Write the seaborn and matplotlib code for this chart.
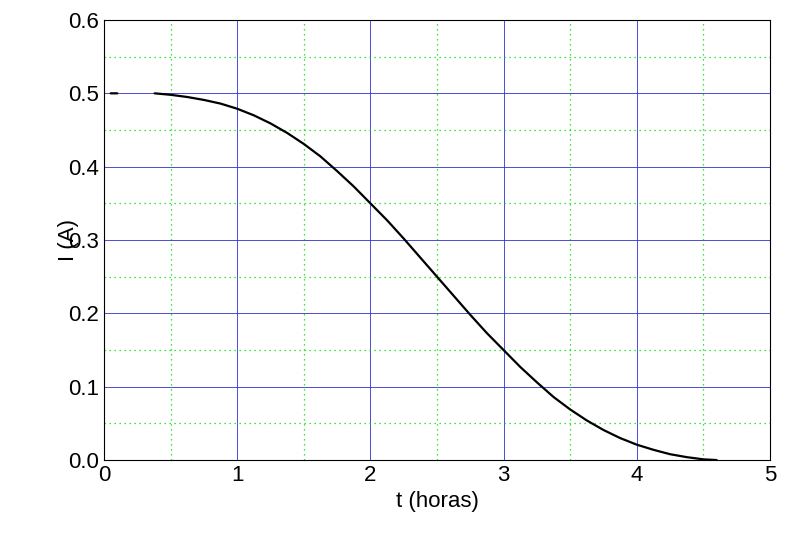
import matplotlib
matplotlib.use("Agg")
import matplotlib.pyplot as plt
import seaborn as sns
import numpy as np
import pandas as pd

t = [0.05, 0.1, np.nan, 0.38, 0.5, 0.625, 0.75, 0.875, 1.0, 1.125, 1.25, 1.375, 1.5, 1.625, 1.75, 1.875, 2.0, 2.125, 2.25, 2.375, 2.5,
     2.625, 2.75, 2.875, 3.0, 3.125, 3.25, 3.375, 3.5, 3.625, 3.75, 3.875, 4.0, 4.125, 4.25, 4.375, 4.5, 4.6]
i = [0.5, 0.5, np.nan, 0.5, 0.498, 0.495, 0.491, 0.486, 0.479, 0.470, 0.459, 0.446, 0.431, 0.414, 0.394, 0.373, 0.350, 0.327, 0.302, 0.276, 0.250,
     0.224, 0.198, 0.173, 0.150, 0.127, 0.106, 0.086, 0.069, 0.054, 0.041, 0.030, 0.021, 0.014, 0.008, 0.004, 0.001, 0.0]

sns.set_style("white")
plt.rcParams['font.family'] = ['Liberation Sans', 'DejaVu Sans']
fig, ax = plt.subplots(figsize=(8, 5.4), dpi=100)
fig.subplots_adjust(left=0.13, right=0.9625, top=0.963, bottom=0.148)
df = pd.DataFrame({"t": t, "i": i})
ax.plot(df["t"], df["i"], color="black", lw=1.6)
ax.set_xlim(0, 5)
ax.set_ylim(0, 0.6)
ax.set_xticks(np.arange(0, 5.01, 1))
ax.set_yticks(np.arange(0, 0.61, 0.1))
ax.set_xticks(np.arange(0.5, 5, 1), minor=True)
ax.set_yticks(np.arange(0.05, 0.6, 0.1), minor=True)
ax.yaxis.set_major_formatter(matplotlib.ticker.FormatStrFormatter('%.1f'))
ax.grid(which="major", color="#3030d0", lw=0.6)
ax.grid(which="minor", color="#00dd00", lw=0.9, ls=(0, (1, 3)))
ax.tick_params(which="major", labelsize=16, length=5, direction="in", colors="black")
ax.tick_params(which="minor", length=0)
for s in ax.spines.values():
    s.set_color("black"); s.set_linewidth(0.8)
ax.set_xlabel("t (horas)", fontsize=16, color="black")
ax.set_ylabel("I (A)", fontsize=16, color="black", labelpad=-8)
fig.savefig("out.png")
